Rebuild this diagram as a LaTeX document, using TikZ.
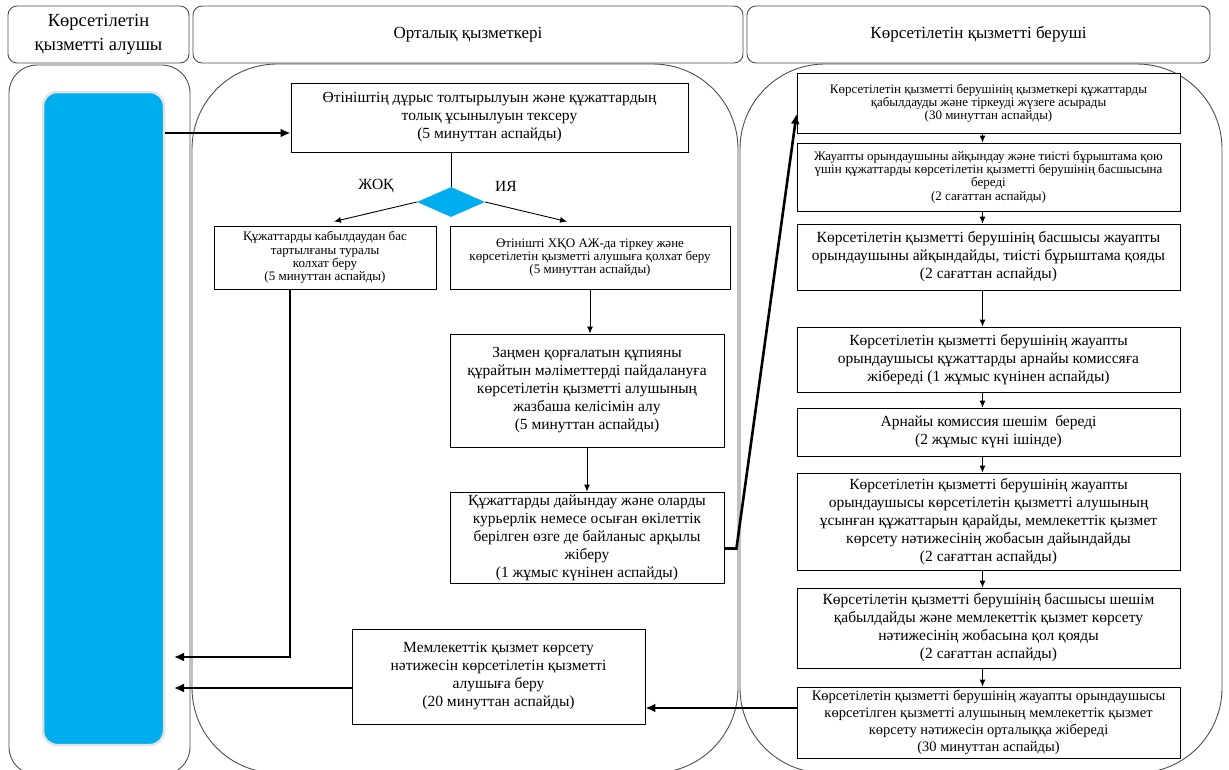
\documentclass[tikz,border=0pt]{standalone}
\usepackage{fontspec}
\setmainfont{Liberation Serif}
\usepackage{tikz}
\usetikzlibrary{arrows.meta,calc,positioning,shapes.geometric}
\definecolor{SvcCyan}{HTML}{00AEEF}
\definecolor{SvcLine}{HTML}{4D4D4D}
\definecolor{SvcRim}{HTML}{E3E3E3}
\newcommand\bigtxt{\fontsize{15.5}{18}\selectfont}
\newcommand\smalltxt{\fontsize{13}{13.2}\selectfont}
\newcommand\headtxt{\fontsize{17}{24}\selectfont}

\begin{document}
\begin{tikzpicture}[x=1pt,y=-1pt,
            >={Latex[length=7pt,width=6pt]},
            lane/.style={draw=SvcLine,line width=0.9pt},
            head/.style={draw=SvcLine,line width=0.9pt,rounded corners=9pt,
              align=center,inner sep=0pt,minimum height=57pt,font=\headtxt},
            box/.style={draw=black,line width=0.9pt,fill=white,align=center,
              inner sep=1pt,font=\bigtxt},
            note/.style={box,font=\smalltxt},
            link/.style={->,line width=0.9pt},
            flow/.style={-{Latex[length=10pt,width=9pt]},line width=2.6pt}
          ]
          \useasboundingbox (0,0) rectangle (1229,769);
          \clip (0,0) rectangle (1229,769);
          \draw[lane,rounded corners=28pt] (9,65) rectangle (190,775);
          \draw[lane,rounded corners=85pt] (192,64) rectangle (738,773);
          \draw[lane,rounded corners=85pt] (740,64) rectangle (1222,773);
          \node[head,minimum width=181pt,font=\fontsize{18.5}{24}\selectfont] (hrcv) at (98.5,34.5) {Көрсетілетін\\қызметті алушы};
          \node[head,minimum width=550pt] (hctr) at (468,34.5) {Орталық қызметкері};
          \node[head,minimum width=463pt] (hprv) at (978.5,34.5) {Көрсетілетін қызметті беруші};
          \node[draw=SvcRim,line width=2.5pt,fill=SvcCyan,rounded corners=14pt,
            minimum width=121pt,minimum height=653pt,inner sep=0pt] (rcv) at (103.5,418.5) {};

          \node[box,minimum width=397pt,minimum height=69pt] (chk) at (489.5,117.5)
            {Өтініштің дұрыс толтырылуын және құжаттардың\\толық ұсынылуын тексеру\\(5 минуттан аспайды)};
          \node[diamond,fill=SvcCyan,minimum width=68pt,minimum height=30pt,inner sep=0pt] (dec) at (451,202) {};
          \node[font=\bigtxt] (no) at (376,186) {ЖОҚ};
          \node[font=\bigtxt] (yes) at (506,186) {ИЯ};
          \node[note,minimum width=222pt,minimum height=63pt] (rej) at (325,257.5)
            {Құжаттарды кабылдаудан бас\\тартылғаны туралы\\колхат беру\\(5 минуттан аспайды)};
          \node[note,minimum width=280pt,minimum height=63pt] (reg) at (590,257.5)
            {Өтінішті ХҚО АЖ-да тіркеу және\\көрсетілетін қызметті алушыға қолхат беру\\(5 минуттан аспайды)};
          \node[box,minimum width=274pt,minimum height=113pt] (con) at (587,390.5)
            {Заңмен қорғалатын құпияны\\құрайтын мәліметтерді пайдалануға\\көрсетілетін қызметті алушының\\жазбаша келісімін алу\\ (5 минуттан аспайды)};
          \node[box,minimum width=274pt,minimum height=91pt] (snd) at (587,537.5)
            {Құжаттарды дайындау және оларды\\курьерлік немесе осыған өкілеттік\\берілген өзге де байланыс арқылы\\жіберу\\(1 жұмыс күнінен аспайды)};
          \node[box,minimum width=293pt,minimum height=95pt] (res) at (498.5,676.5)
            {Мемлекеттік қызмет көрсету\\нәтижесін көрсетілетін қызметті\\алушыға беру\\(20 минуттан аспайды)};

          \node[note,minimum width=383pt,minimum height=60pt] (r1) at (988.5,103)
            {Көрсетілетін қызметті берушінің қызметкері құжаттарды\\қабылдауды және тіркеуді жүзеге асырады\\(30 минуттан аспайды)};
          \node[note,minimum width=383pt,minimum height=68pt] (r2) at (988.5,177)
            {Жауапты орындаушыны айқындау және тиісті бұрыштама қою\\үшін құжаттарды көрсетілетін қызметті берушінің басшысына\\береді\\(2 сағаттан аспайды)};
          \node[box,minimum width=383pt,minimum height=66pt] (r3) at (988.5,257)
            {Көрсетілетін қызметті берушінің басшысы жауапты\\орындаушыны айқындайды, тиісті бұрыштама қояды\\(2 сағаттан аспайды)};
          \node[box,minimum width=383pt,minimum height=65pt] (r4) at (988.5,359.5)
            {Көрсетілетін қызметті берушінің жауапты\\орындаушысы құжаттарды арнайы комиссяға\\жібереді (1 жұмыс күнінен аспайды)};
          \node[box,minimum width=383pt,minimum height=48pt] (r5) at (988.5,432)
            {Арнайы комиссия шешім~ береді\\(2 жұмыс күні ішінде)};
          \node[box,minimum width=383pt,minimum height=97pt] (r6) at (988.5,521.5)
            {Көрсетілетін қызметті берушінің жауапты\\орындаушысы көрсетілетін қызметті алушының\\ұсынған құжаттарын қарайды, мемлекеттік қызмет\\көрсету нәтижесінің жобасын дайындайды\\(2 сағаттан аспайды)};
          \node[box,minimum width=383pt,minimum height=80pt] (r7) at (988.5,628)
            {Көрсетілетін қызметті берушінің басшысы шешім\\қабылдайды және мемлекеттік қызмет көрсету\\нәтижесінің жобасына қол қояды\\(2 сағаттан аспайды)};
          \node[box,minimum width=383pt,minimum height=71pt,font=\fontsize{14.5}{17}\selectfont] (r8) at (988.5,722.5)
            {Көрсетілетін қызметті берушінің жауапты орындаушысы\\көрсетілген қызметті алушының мемлекеттік қызмет\\көрсету нәтижесін орталыққа жібереді\\(30 минуттан аспайды)};

          \coordinate (in1) at (174,657);
          \coordinate (in2) at (174,688);
          \draw[line width=0.9pt] (chk.south -| dec.north) -- (dec.north);
          \draw[link] (dec.west) -- ([xshift=9pt,yshift=4pt]rej.north);
          \draw[link] (dec.east) -- ([xshift=-23pt,yshift=4pt]reg.north);
          \draw[link] (reg.south) -- (reg.south |- con.north);
          \draw[link] (con.south) -- (snd.north);
          \foreach \a/\b in {r1/r2,r2/r3,r3/r4,r4/r5,r5/r6,r6/r7,r7/r8}
            \draw[link] ([xshift=-6pt]\a.south) -- ([xshift=-6pt]\b.north);
          \draw[flow] ([yshift=-15.5pt]chk.west -| rcv.east) -- ([yshift=-15.5pt]chk.west);
          \draw[flow] ([xshift=-35pt]rej.south) |- (in1);
          \draw[flow] (res.west |- in2) -- (in2);
          \draw[flow] ([yshift=-11pt]snd.east) -- ++(12,0) -- ([yshift=-11pt]r1.west);
          \draw[flow] ([yshift=14.5pt]r8.west) -- ([yshift=14.5pt]r8.west -| res.east);
        \end{tikzpicture}
\end{document}
